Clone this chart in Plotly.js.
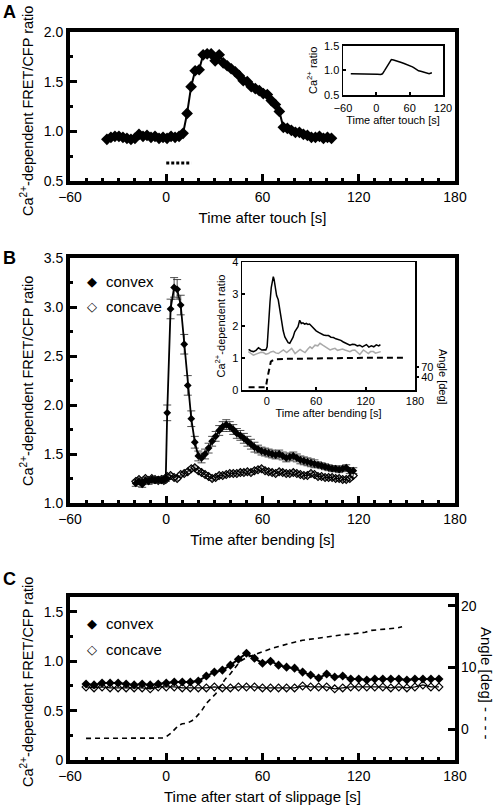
<!DOCTYPE html>
<html><head><meta charset="utf-8">
<script src="https://cdn.plot.ly/plotly-3.0.1.min.js"></script>
<style>html,body{margin:0;padding:0;background:#fff}#plot{width:498px;height:808px}</style>
</head><body><div id="plot"></div>
<script>
// ---------- Panel A (touch) ----------
const touchTime = [-37,-34.5,-32,-29.5,-27,-24.5,-22,-19.5,-17,-14.5,-12,-9.5,-7,-4.5,-2,0.5,3,5.5,8,10.5,13,15.5,18,20.5,23,25.5,28,30.5,33,35.5,38,40.5,43,45.5,48,50.5,53,55.5,58,60.5,63,65.5,68,70.5,73,75.5,78,80.5,83,85.5,88,90.5,93,95.5,98,100.5,103];
const touchRatio = [0.92,0.94,0.95,0.95,0.94,0.93,0.92,0.93,0.97,0.95,0.96,0.94,0.95,0.93,0.94,0.93,0.95,0.94,0.95,0.98,1.18,1.45,1.61,1.62,1.77,1.78,1.78,1.71,1.77,1.69,1.66,1.63,1.60,1.56,1.51,1.50,1.45,1.43,1.41,1.38,1.37,1.31,1.27,1.20,1.04,1.03,1.01,0.99,0.99,0.97,0.96,0.94,0.94,0.95,0.93,0.94,0.93];
const touchBarX = [0, 15.6];
const touchBarY = [0.68, 0.68];
const insetATime = [-46,-40,-34,-28,-22,-19,-16,-10,-4,2,8,11,15,19,23,27,31,35,40,45,50,55,60,65,68,72,76,80,85,90,95,100];
const insetARatio = [0.93,0.93,0.925,0.92,0.92,0.935,0.925,0.92,0.925,0.92,0.915,0.93,1.0,1.08,1.16,1.22,1.21,1.20,1.18,1.16,1.14,1.12,1.10,1.07,1.05,1.02,0.99,0.98,0.96,0.94,0.93,0.95];

// ---------- Panel B (bending) ----------
const bendTime = [-19,-17,-15,-13,-11,-9,-7,-5,-3,-1.5,-0.3,0.6,2.7,4.9,6.8,9.0,11.2,13.4,15.6,17.8,20,22,24.2,26.4,28.6,30.8,33,35.2,37.4,39.6,41.8,44,46.2,48.4,50.6,52.8,55,57.2,59.4,61.6,63.8,66,68.2,70.4,72.6,74.8,77,79.2,81.4,83.6,85.8,88,90.2,92.4,94.6,96.8,99,101.2,103.4,105.6,107.8,110,112.2,114.4,116.6];
const convexB = [1.20,1.22,1.19,1.23,1.22,1.24,1.23,1.24,1.23,1.24,1.25,1.92,2.98,3.20,3.18,3.02,2.62,2.20,1.86,1.62,1.48,1.46,1.50,1.56,1.63,1.68,1.74,1.78,1.80,1.78,1.75,1.71,1.69,1.66,1.63,1.60,1.57,1.55,1.53,1.52,1.51,1.50,1.49,1.50,1.48,1.46,1.47,1.48,1.46,1.44,1.43,1.42,1.41,1.40,1.39,1.38,1.37,1.36,1.35,1.35,1.34,1.35,1.36,1.33,1.33];
const convexBErr = [0.03,0.03,0.03,0.03,0.03,0.03,0.03,0.03,0.03,0.03,0.03,0.08,0.1,0.1,0.1,0.1,0.1,0.1,0.08,0.06,0.05,0.05,0.05,0.05,0.05,0.05,0.05,0.05,0.05,0.05,0.05,0.05,0.05,0.05,0.05,0.05,0.05,0.04,0.04,0.04,0.04,0.04,0.04,0.04,0.04,0.04,0.04,0.04,0.04,0.04,0.04,0.04,0.04,0.04,0.03,0.03,0.03,0.03,0.03,0.03,0.03,0.03,0.03,0.03,0.03];
const concaveB = [1.22,1.24,1.21,1.25,1.23,1.25,1.24,1.23,1.24,1.23,1.24,1.27,1.28,1.26,1.25,1.29,1.30,1.32,1.35,1.36,1.33,1.31,1.29,1.27,1.25,1.26,1.28,1.28,1.29,1.30,1.30,1.30,1.31,1.31,1.32,1.31,1.33,1.34,1.35,1.33,1.32,1.31,1.30,1.32,1.31,1.30,1.30,1.31,1.30,1.29,1.28,1.28,1.30,1.29,1.27,1.27,1.26,1.26,1.26,1.25,1.25,1.24,1.24,1.25,1.28];
const concaveBErr = 0.02;
const insetBTime = [-22,-19,-16,-13,-10,-8,-6,-3,-1,0.5,2,4,5.5,7,8,9,10,12,14,16,18,20,22,24,26,28,30,32,34,36,38,40,42,44,46,48,50,52,54,56,58,60,63,66,69,72,75,78,81,84,87,90,93,96,99,101,104,107,110,113,116,119,121,124,127,130,133,136,138];
const insetBConvex = [1.27,1.22,1.20,1.24,1.32,1.28,1.25,1.26,1.25,1.35,2.13,2.75,3.20,3.44,3.54,3.45,3.28,2.95,2.82,2.50,2.13,1.85,1.66,1.55,1.48,1.46,1.55,1.65,1.82,1.90,1.98,2.18,2.08,2.10,2.06,2.08,2.05,2.06,2.00,1.96,1.90,1.85,1.80,1.75,1.72,1.70,1.70,1.65,1.64,1.60,1.58,1.55,1.50,1.46,1.42,1.40,1.43,1.42,1.38,1.40,1.35,1.38,1.42,1.34,1.38,1.35,1.41,1.38,1.42];
const insetBConcaveTime = [-22.3,-19,-16.2,-13,-10.2,-7,-4.1,-1,2,5,8.1,11,14.1,17,20.2,24.3,27,30.3,34.4,37,40.5,43,46.5,50,52.6,55,58.6,62,64.7,68,70.8,74,76.9,80,82.9,86,89,92,95,98,101,104,107,110,113,117.4,120,123.4,126,129.5,132,135.6,138.4];
const insetBConcave = [1.20,1.15,1.09,1.12,1.14,1.18,1.17,1.12,1.14,1.19,1.21,1.16,1.14,1.20,1.25,1.17,1.22,1.30,1.14,1.20,1.27,1.22,1.17,1.28,1.35,1.30,1.40,1.38,1.46,1.40,1.35,1.30,1.25,1.28,1.30,1.24,1.25,1.28,1.25,1.22,1.20,1.24,1.25,1.18,1.11,1.25,1.20,1.14,1.20,1.20,1.15,1.17,1.20];
const insetBAngleTime = [-22,-10,-3,-1,1,3,5,8,12,20,40,60,80,100,120,140,166];
const insetBAngle = [12,12,12,12,40,66,84,89,91,92,93,94,94,94.5,95,95,95];

// ---------- Panel C (slippage) ----------
const slipTime = [-50,-45,-40,-35,-30,-25,-20,-15,-10,-5,0,5,10,15,20,25,30,35,40,45,50,55,60,65,70,75,80,85,90,95,100,105,110,115,120,125,130,135,140,145,150,155,160,165,170];
const convexC = [0.77,0.76,0.78,0.78,0.78,0.77,0.76,0.77,0.76,0.77,0.78,0.79,0.79,0.79,0.80,0.85,0.89,0.91,0.96,1.02,1.08,1.03,0.98,1.00,0.96,0.94,0.93,0.89,0.86,0.83,0.87,0.84,0.85,0.82,0.82,0.81,0.82,0.82,0.82,0.82,0.81,0.82,0.82,0.82,0.82];
const concaveC = [0.74,0.73,0.74,0.73,0.73,0.73,0.73,0.73,0.72,0.74,0.74,0.74,0.73,0.73,0.73,0.73,0.74,0.73,0.73,0.74,0.74,0.74,0.73,0.73,0.73,0.73,0.73,0.75,0.74,0.74,0.74,0.72,0.73,0.74,0.74,0.74,0.74,0.74,0.73,0.74,0.73,0.74,0.76,0.74,0.74];
const angleCTime = [-50,-40,-30,-20,-10,-2,0,3,6,8,10,13,16,19,22,25,28,31,34,37,40,43,46,50,54,58,62,66,70,75,80,85,90,95,100,105,110,115,120,124,128,132,136,140,144,147];
const angleC = [-1.45,-1.45,-1.45,-1.45,-1.45,-1.4,-1.2,-0.6,0.2,0.7,0.9,1.0,1.4,2.1,3.0,4.2,5.0,5.8,7.1,8.2,9.0,10.1,11.0,11.6,12.0,12.3,12.7,13.1,13.4,13.8,14.1,14.4,14.6,14.8,15.0,15.2,15.3,15.4,15.5,15.7,16.0,16.1,16.1,16.2,16.4,16.6];

const FONT = 'Liberation Sans, Arial, Helvetica, sans-serif';
const H = 808, L = 70, PW = 385;
const py = p => 1 - p / H;          // pixel row -> paper y
const px = p => (p - L) / PW;       // pixel column -> paper x
const YT = 'Ca<sup>2+</sup>-dependent FRET/CFP ratio';

function mainX(anchor, title) {
  return {
    anchor: anchor, domain: [0, 1], range: [-60, 180], tickmode: 'linear', tick0: -60, dtick: 60,
    ticks: 'inside', ticklen: 7, tickwidth: 3, tickcolor: '#000',
    minor: {dtick: 10, tick0: -60, ticks: 'inside', ticklen: 3, tickwidth: 3, tickcolor: '#000', showgrid: false},
    showline: true, linewidth: 4, linecolor: '#000', mirror: true, showgrid: false, zeroline: false,
    tickfont: {size: 14, family: FONT, color: '#000'},
    title: {text: title, font: {size: 15, family: FONT, color: '#000'}, standoff: 10},
    automargin: false, fixedrange: true
  };
}
function mainY(anchor, dom, range, dtick, minor, extra) {
  return Object.assign({
    anchor: anchor, domain: dom, range: range, tickmode: 'linear', tick0: range[0], dtick: dtick, tickformat: '.1f',
    ticks: 'inside', ticklen: 7, tickwidth: 3, tickcolor: '#000',
    minor: {dtick: minor, tick0: range[0], ticks: 'inside', ticklen: 3, tickwidth: 3, tickcolor: '#000', showgrid: false},
    showline: true, linewidth: 4, linecolor: '#000', mirror: true, showgrid: false, zeroline: false,
    tickfont: {size: 14, family: FONT, color: '#000'},
    automargin: false, fixedrange: true
  }, extra || {});
}
function insetAxis(extra) {
  return Object.assign({
    showline: true, linewidth: 1.5, linecolor: '#000', mirror: true, showgrid: false, zeroline: false,
    ticks: 'inside', ticklen: 3, tickwidth: 2, tickcolor: '#000',
    tickfont: {size: 11, family: FONT, color: '#000'}, automargin: false, fixedrange: true
  }, extra);
}
function note(text, x, y, size, extra) {
  return Object.assign({text: text, xref: 'paper', yref: 'paper', x: px(x), y: py(y), xanchor: 'center', yanchor: 'middle',
    showarrow: false, font: {size: size, family: FONT, color: '#000'}}, extra || {});
}

const data = [
  // A main
  {x: touchTime, y: touchRatio, xaxis: 'x', yaxis: 'y', mode: 'lines+markers',
   line: {color: '#000', width: 2}, marker: {symbol: 'diamond', size: 9, color: '#000'}},
  {x: touchBarX, y: touchBarY, xaxis: 'x', yaxis: 'y', mode: 'lines',
   line: {color: '#000', width: 3, dash: '3px,2px'}},
  // A inset
  {x: insetATime, y: insetARatio, xaxis: 'x2', yaxis: 'y2', mode: 'lines', line: {color: '#000', width: 1.5}},
  // B main
  {x: bendTime, y: concaveB, xaxis: 'x3', yaxis: 'y3', mode: 'lines+markers',
   line: {color: '#000', width: 1}, marker: {symbol: 'diamond-open', size: 6, color: '#000', line: {width: 1.2}},
   error_y: {type: 'constant', value: concaveBErr, color: '#555', thickness: 0.8, width: 3}},
  {x: bendTime, y: convexB, xaxis: 'x3', yaxis: 'y3', mode: 'lines+markers',
   line: {color: '#000', width: 1.8}, marker: {symbol: 'diamond', size: 6, color: '#000'},
   error_y: {type: 'data', array: convexBErr, color: '#222', thickness: 0.8, width: 4}},
  // B inset
  {x: insetBConcaveTime, y: insetBConcave, xaxis: 'x4', yaxis: 'y4', mode: 'lines', line: {color: '#aaaaaa', width: 1.5}},
  {x: insetBTime, y: insetBConvex, xaxis: 'x4', yaxis: 'y4', mode: 'lines', line: {color: '#000', width: 1.5}},
  {x: insetBAngleTime, y: insetBAngle, xaxis: 'x4', yaxis: 'y5', mode: 'lines', line: {color: '#000', width: 2, dash: '6px,4px'}},
  // C
  {x: angleCTime, y: angleC, xaxis: 'x5', yaxis: 'y7', mode: 'lines', line: {color: '#000', width: 1.6, dash: '5px,4px'}},
  {x: slipTime, y: concaveC, xaxis: 'x5', yaxis: 'y6', mode: 'lines+markers',
   line: {color: '#000', width: 1.3}, marker: {symbol: 'diamond-open', size: 6, color: '#000', line: {width: 1.2}}},
  {x: slipTime, y: convexC, xaxis: 'x5', yaxis: 'y6', mode: 'lines+markers',
   line: {color: '#000', width: 2}, marker: {symbol: 'diamond', size: 7, color: '#000'}}
];
data.forEach(t => { t.showlegend = false; t.hoverinfo = 'skip'; });

const domA = [py(181), py(32)], domB = [py(503), py(258)], domC = [py(760), py(597)];

const layout = {
  width: 498, height: 808, margin: {l: L, r: 43, t: 0, b: 0},
  paper_bgcolor: '#fff', plot_bgcolor: '#fff', showlegend: false,
  font: {family: FONT, color: '#000'},
  xaxis: mainX('y', 'Time after touch [s]'),
  yaxis: mainY('x', domA, [0.5, 2.0], 0.5, 0.25),
  xaxis2: insetAxis({anchor: 'y2', domain: [px(343), px(443)], range: [-60, 120], tickmode: 'array', tickvals: [-60, 0, 60, 120],
    ticklabelstandoff: 2, title: {text: 'Time after touch [s]', font: {size: 11, family: FONT}, standoff: 2}}),
  yaxis2: insetAxis({anchor: 'x2', domain: [py(95), py(45.7)], range: [0.5, 1.5], tickmode: 'array', tickvals: [0.5, 1.0, 1.5], tickformat: '.1f',
    title: {text: 'Ca<sup>2+</sup> ratio', font: {size: 11, family: FONT}, standoff: 4}}),
  xaxis3: mainX('y3', 'Time after bending [s]'),
  yaxis3: mainY('x3', domB, [1.0, 3.5], 0.5, 0.25),
  xaxis4: insetAxis({anchor: 'y4', domain: [px(242), px(415)], range: [-30, 180], tickmode: 'array', tickvals: [0, 60, 120, 180],
    title: {text: 'Time after bending [s]', font: {size: 11, family: FONT}, standoff: 2}}),
  yaxis4: insetAxis({anchor: 'x4', domain: [py(390), py(262)], range: [0, 4], tickmode: 'array', tickvals: [0, 1, 2, 3, 4],
    title: {text: 'Ca<sup>2+</sup>-dependent ratio', font: {size: 11, family: FONT}, standoff: 4}}),
  yaxis5: {anchor: 'x4', overlaying: 'y4', side: 'right', range: [4, 366], tickmode: 'array', tickvals: [40, 70],
    ticks: 'outside', ticklen: 3, tickwidth: 2, tickcolor: '#000', showline: false, showgrid: false, zeroline: false,
    ticklabelstandoff: 0,
    tickfont: {size: 11, family: FONT, color: '#000'}, automargin: false, fixedrange: true},
  xaxis5: mainX('y6', 'Time after start of slippage [s]'),
  yaxis6: mainY('x5', domC, [0, 1.65], 0.5, 0.25, {tickmode: 'array', tickvals: [0, 0.5, 1.0, 1.5], ticktext: ['0', '0.5', '1.0', '1.5'],
    minor: {tickvals: [0.25, 0.75, 1.25], ticks: 'inside', ticklen: 3, tickwidth: 3, tickcolor: '#000', showgrid: false}}),
  yaxis7: {anchor: 'x5', overlaying: 'y6', side: 'right', range: [-4.95, 21.4], tickmode: 'array', tickvals: [0, 10, 20],
    ticks: 'inside', ticklen: 7, tickwidth: 3, tickcolor: '#000', showline: false, showgrid: false, zeroline: false,
    ticklabelstandoff: 5,
    tickfont: {size: 14, family: FONT, color: '#000'}, automargin: false, fixedrange: true},
  annotations: [
    note('<b>A</b>', 9, 12, 18),
    note('<b>B</b>', 9, 258, 18),
    note('<b>C</b>', 9, 579, 18),
    note(YT, 27, 111, 14.5, {textangle: -90}),
    note(YT, 27, 381, 14.5, {textangle: -90}),
    note(YT, 27, 682, 14.5, {textangle: -90}),
    note('◆', 92, 281, 13, {font: {size: 13, family: 'DejaVu Sans', color: '#000'}}),
    note('convex', 104, 281, 15, {xanchor: 'left'}),
    note('◇', 92, 306, 13, {font: {size: 13, family: 'DejaVu Sans', color: '#000'}}),
    note('concave', 104, 306, 15, {xanchor: 'left'}),
    note('◆', 92, 623, 13, {font: {size: 13, family: 'DejaVu Sans', color: '#000'}}),
    note('convex', 104, 623, 15, {xanchor: 'left'}),
    note('◇', 92, 649, 13, {font: {size: 13, family: 'DejaVu Sans', color: '#000'}}),
    note('concave', 104, 649, 15, {xanchor: 'left'}),
    note('Angle [deg]', 443, 377, 11, {textangle: 90}),
    note('Angle [deg] - - - -', 487, 683, 15, {textangle: 90})
  ]
};

Plotly.newPlot('plot', data, layout, {staticPlot: true, displayModeBar: false});
</script>
</body></html>
